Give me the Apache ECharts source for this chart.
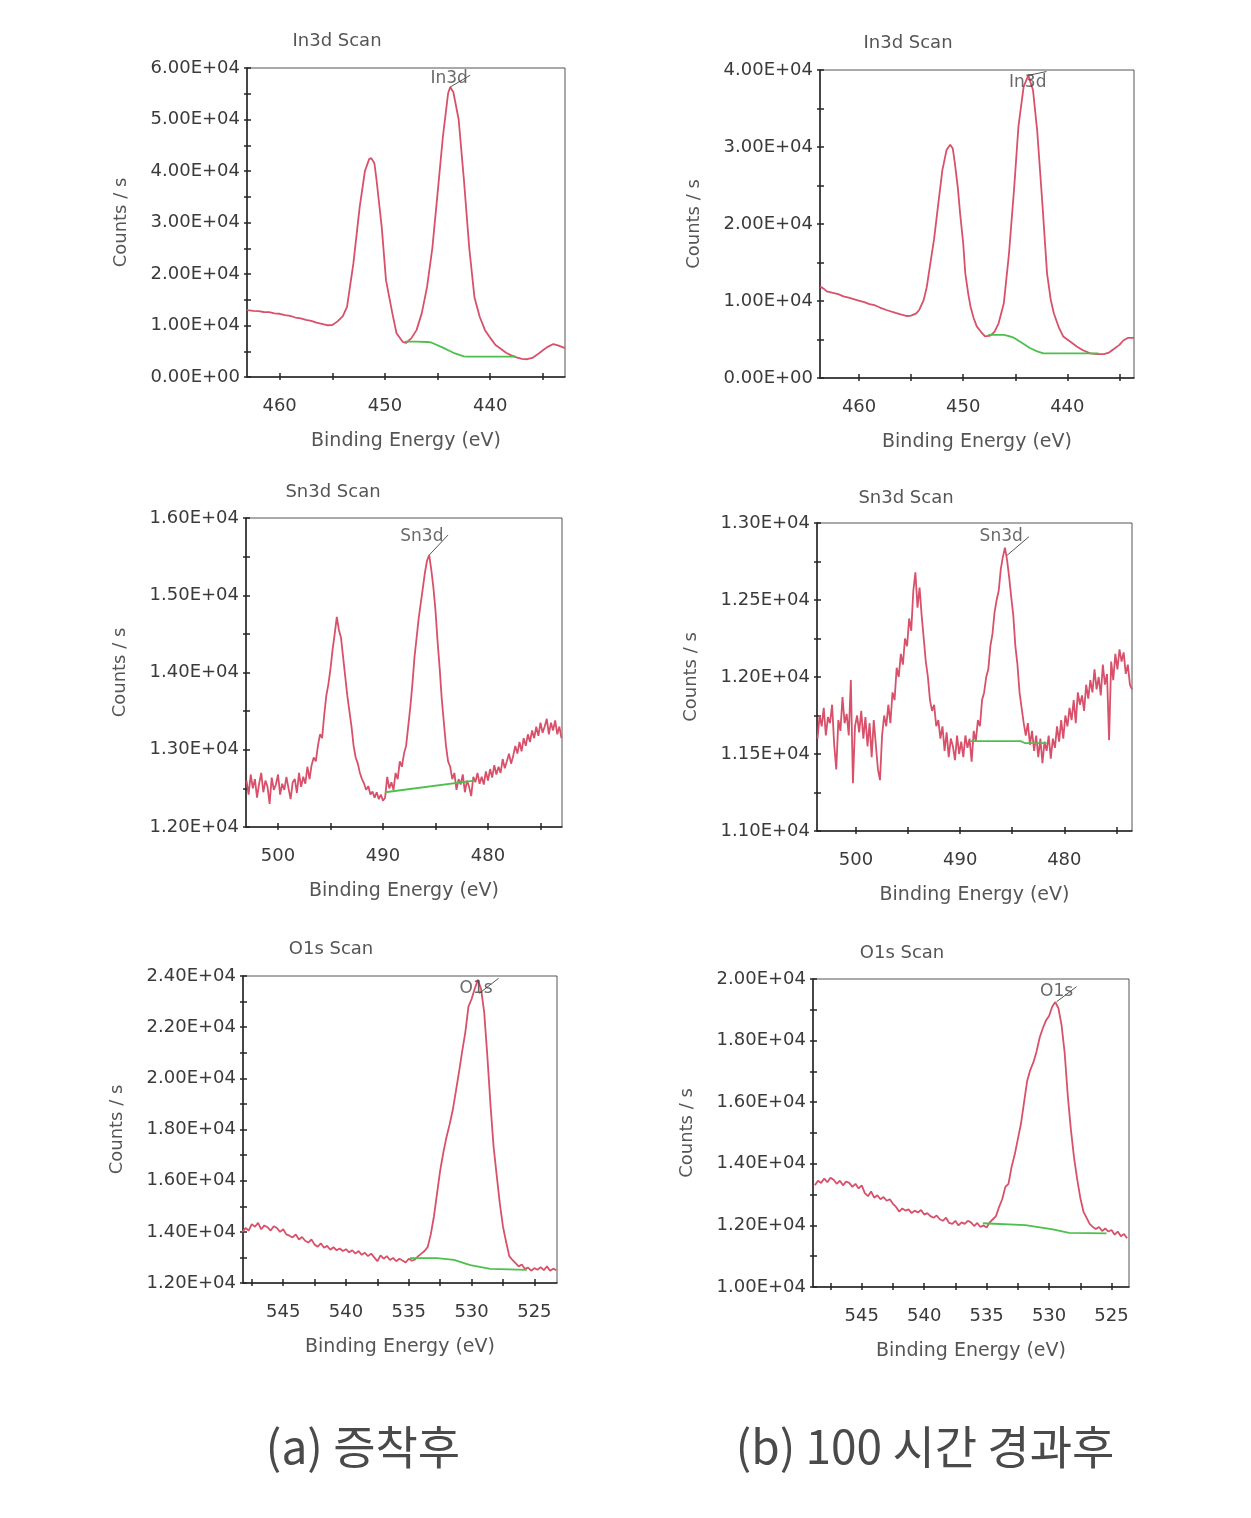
<!DOCTYPE html>
<html><head><meta charset="utf-8">
<script src="https://cdn.jsdelivr.net/npm/echarts@6/dist/echarts.min.js"></script>
<style>html,body{margin:0;padding:0;background:#fff}#c{width:1251px;height:1518px}</style>
</head><body><div id="c"></div>
<script>
// ---------- tick / label arrays ----------
const in3dXTicks = [435, 440, 445, 450, 455, 460];
const in3dXLabels = [440, 450, 460];
const sn3dXTicks = [475, 480, 485, 490, 495, 500];
const sn3dXLabels = [480, 490, 500];
const o1sXTicks = [525, 527.5, 530, 532.5, 535, 537.5, 540, 542.5, 545, 547.5];
const o1sXLabels = [525, 530, 535, 540, 545];

const in3dA_yTicks = [0, 5000, 10000, 15000, 20000, 25000, 30000, 35000, 40000, 45000, 50000, 55000, 60000];
const in3dA_yLabels = [0, 10000, 20000, 30000, 40000, 50000, 60000];
const in3dB_yTicks = [0, 5000, 10000, 15000, 20000, 25000, 30000, 35000, 40000];
const in3dB_yLabels = [0, 10000, 20000, 30000, 40000];
const sn3dA_yTicks = [12000, 12500, 13000, 13500, 14000, 14500, 15000, 15500, 16000];
const sn3dA_yLabels = [12000, 13000, 14000, 15000, 16000];
const sn3dB_yTicks = [11000, 11250, 11500, 11750, 12000, 12250, 12500, 12750, 13000];
const sn3dB_yLabels = [11000, 11500, 12000, 12500, 13000];
const o1sA_yTicks = [12000, 13000, 14000, 15000, 16000, 17000, 18000, 19000, 20000, 21000, 22000, 23000, 24000];
const o1sA_yLabels = [12000, 14000, 16000, 18000, 20000, 22000, 24000];
const o1sB_yTicks = [10000, 11000, 12000, 13000, 14000, 15000, 16000, 17000, 18000, 19000, 20000];
const o1sB_yLabels = [10000, 12000, 14000, 16000, 18000, 20000];

// ---------- titles & captions ----------
const titles = ['In3d Scan', 'In3d Scan', 'Sn3d Scan', 'Sn3d Scan', 'O1s Scan', 'O1s Scan'];
const peakNames = ['In3d', 'In3d', 'Sn3d', 'Sn3d', 'O1s', 'O1s'];
const xName = 'Binding Energy (eV)';
const yName = 'Counts / s';
const captionA = '(a) 증착후';
const captionB = '(b) 100 시간 경과후';

// ---------- In3d (a) : [binding energy, counts] ----------
const in3dA_spectrum = [[463.1,13000],[462.5,12850],[462,12780],[461.5,12620],[461,12580],[460.5,12350],[460,12280],[459.5,12000],[459,11880],[458.5,11550],[458,11380],[457.5,11100],[457,10880],[456.5,10550],[456,10300],[455.5,10050],[455,10100],[454.5,10800],[454,11800],[453.6,13600],[453,22000],[452.4,33000],[451.9,40000],[451.5,42300],[451.3,42500],[451,41500],[450.8,38300],[450.3,29000],[449.9,18800],[449.3,12400],[448.9,8500],[448.3,6800],[448,6600],[447.5,7500],[447,9100],[446.5,12400],[446,17500],[445.5,25000],[445,35700],[444.5,46600],[444,55100],[443.8,56300],[443.5,55300],[443,50000],[442.5,38300],[442,25200],[441.5,15500],[441,11700],[440.5,9100],[440,7600],[439.5,6200],[439,5500],[438.5,4700],[438,4200],[437.5,3800],[437,3500],[436.5,3450],[436,3700],[435.5,4400],[435,5200],[434.5,5900],[434,6400],[433.5,6100],[432.9,5600]];
const in3dA_background = [[448.1,6850],[447,6850],[446,6800],[445.6,6700],[444.5,5700],[443.5,4700],[442.5,4000],[442.2,3950],[437.6,3950]];
const in3dA_peakLabel = [443.9, 57860];
const in3dA_leader = [[443.8,56300],[441.9,58600]];

// ---------- In3d (b) ----------
const in3dB_spectrum = [[463.75,11900],[463.4,11600],[463.1,11250],[462.5,11050],[462,10900],[461.5,10600],[461,10450],[460.2,10100],[459.5,9850],[459,9600],[458.5,9450],[458,9150],[457.3,8800],[456.5,8450],[456,8250],[455.4,8050],[455,8100],[454.5,8400],[454.2,8900],[453.8,10100],[453.5,11800],[453.2,14500],[452.8,18000],[452.5,21400],[452,27000],[451.6,29600],[451.25,30300],[451,29800],[450.8,27900],[450.5,24500],[450.3,21400],[450,17500],[449.8,13600],[449.5,10800],[449.3,9300],[449,7800],[448.7,6700],[448.3,6000],[447.9,5400],[447.4,5500],[447,6000],[446.6,7100],[446.1,9700],[445.6,16200],[445.1,24800],[444.7,32600],[444.2,37800],[443.75,39300],[443.3,37400],[442.9,32200],[442.4,22700],[441.95,13600],[441.6,10200],[441.3,8400],[440.8,6500],[440.4,5400],[439.7,4700],[439.1,4100],[438.5,3600],[437.8,3200],[437.2,3100],[436.5,3100],[436,3300],[435.6,3700],[435,4300],[434.6,4900],[434.2,5200],[433.6,5200]];
const in3dB_background = [[447.6,5600],[446.1,5600],[445.6,5450],[445.1,5200],[444.3,4500],[443.6,3900],[442.9,3450],[442.3,3200],[437,3200]];
const in3dB_peakLabel = [443.8, 38310];
const in3dB_leader = [[443.75,39300],[442.0,39800]];

// ---------- Sn3d (a): energies 503.0 .. 473.0, step 0.2 eV ----------
const sn3dA_energyStart = 503.0, sn3dA_energyStep = -0.2;
const sn3dA_counts = [
12600,12420,12680,12500,12620,12380,12560,12700,12450,12600,
12520,12300,12640,12480,12550,12680,12420,12560,12480,12650,
12500,12360,12580,12620,12440,12700,12520,12650,12560,12780,
12620,12800,12900,12850,13050,13200,13150,13450,13700,13850,
14050,14300,14500,14720,14550,14450,14200,13950,13700,13500,
13300,13050,12900,12820,12700,12620,12560,12480,12530,12420,
12460,12380,12450,12360,12420,12340,12380,12650,12500,12580,
12480,12700,12620,12850,12780,12950,13050,13300,13550,13850,
14200,14450,14700,14900,15100,15300,15450,15520,15330,15100,
14800,14400,14050,13650,13350,13050,12850,12780,12620,12700,
12480,12620,12550,12680,12450,12600,12520,12400,12650,12580,
12700,12560,12650,12550,12720,12600,12750,12640,12800,12680,
12780,12700,12880,12760,12850,12950,12820,12920,13050,12950,
13100,12980,13150,13050,13200,13100,13250,13150,13300,13180,
13350,13220,13300,13400,13200,13350,13250,13380,13200,13300,
13150];
const sn3dA_background = [[489.8,12450],[481.3,12600]];
const sn3dA_peakLabel = [486.3, 15760];
const sn3dA_leader = [[485.6,15520],[483.8,15780]];

// ---------- Sn3d (b): energies 503.7 .. 473.5, step 0.2 eV ----------
const sn3dB_energyStart = 503.7, sn3dB_energyStep = -0.2;
const sn3dB_counts = [
11600,11750,11680,11800,11620,11740,11700,11820,11560,11400,
11720,11650,11870,11700,11760,11620,11980,11310,11680,11750,
11640,11780,11600,11740,11550,11700,11480,11720,11560,11400,
11330,11620,11750,11680,11820,11700,11900,11850,12060,12000,
12150,12080,12250,12200,12380,12300,12560,12680,12450,12580,
12400,12250,12100,12000,11850,11780,11820,11680,11720,11600,
11680,11520,11640,11480,11600,11550,11460,11620,11500,11580,
11480,11620,11540,11600,11450,11650,11580,11720,11680,11850,
11900,12000,12050,12200,12280,12420,12500,12560,12700,12780,
12840,12760,12650,12520,12400,12200,12080,11900,11800,11700,
11620,11700,11560,11650,11520,11620,11480,11600,11440,11580,
11520,11620,11470,11600,11540,11680,11580,11720,11600,11750,
11680,11800,11720,11850,11700,11900,11820,11880,11780,11950,
11860,11980,11900,12050,11920,12000,11880,12080,11950,12020,
11590,12100,11980,12150,12050,12180,12100,12160,12020,12080,
11950,11920];
const sn3dB_background = [[489.0,11584],[484.2,11584],[483.75,11570],[481.7,11570]];
const sn3dB_peakLabel = [486.06, 12909];
const sn3dB_leader = [[485.5,12790],[483.4,12911]];

// ---------- O1s (a): energies 548.25 .. 523.25, step 0.25 eV ----------
const o1sA_energyStart = 548.25, o1sA_energyStep = -0.25;
const o1sA_counts = [
13980,14150,14050,14300,14200,14350,14100,14250,
14180,14050,14220,14150,14000,14100,13900,13850,
13780,13900,13700,13800,13650,13580,13700,13500,
13420,13550,13380,13450,13300,13400,13280,13350,
13250,13320,13200,13280,13150,13250,13100,13180,
13050,13150,13000,12850,13080,12950,13050,12900,
12980,12850,12950,12880,12800,12950,12870,12920,
13050,13150,13250,13400,13900,14600,15500,16400,
17100,17700,18200,18760,19500,20250,21050,21800,
22800,23100,23500,23850,23500,22600,20900,19000,
17330,16200,15100,14200,13600,13050,12900,12780,
12650,12720,12550,12600,12480,12580,12520,12620,
12500,12650,12480,12560,12500];
const o1sA_background = [[534.9,12970],[532.75,12970],[531.4,12900],[530.1,12700],[528.5,12550],[525.6,12510]];
const o1sA_peakLabel = [529.64, 23520];
const o1sA_leader = [[529.4,23320],[527.85,23910]];

// ---------- O1s (b): energies 548.75 .. 523.75, step 0.25 eV ----------
const o1sB_energyStart = 548.75, o1sB_energyStep = -0.25;
const o1sB_counts = [
13300,13450,13380,13520,13400,13550,13480,13350,
13450,13300,13420,13380,13250,13350,13200,13300,
13050,12950,13100,12900,12980,12850,12920,12800,
12850,12700,12600,12450,12550,12480,12520,12400,
12480,12420,12500,12350,12400,12300,12250,12320,
12200,12150,12250,12080,12050,12150,12000,12100,
12050,12150,12100,11980,12080,11950,12000,11930,
12100,12200,12300,12600,12850,13250,13350,13900,
14300,14800,15300,16000,16700,17050,17300,17650,
18100,18400,18650,18800,19100,19250,19050,18500,
17600,16200,15100,14200,13500,12900,12450,12250,
12050,11950,11880,11950,11820,11900,11800,11850,
11700,11800,11650,11720,11580];
const o1sB_background = [[535.3,12070],[531.9,12010],[529.7,11870],[528.4,11760],[525.4,11740]];
const o1sB_peakLabel = [529.4, 19590];
const o1sB_leader = [[529.4,19260],[527.8,19750]];

// ---------- helpers ----------
function onEnergyGrid(start, step, counts) {
  return counts.map((c, i) => [+(start + i * step).toFixed(3), c]);
}
function sciLabel(v) {
  if (v === 0) return '0.00E+00';
  return (v / 10000).toFixed(2) + 'E+04';
}

// ---------- panel layout ----------
const panels = [
  { box: [247, 68, 318, 309], xr: [432.9, 463.1], yr: [0, 60000], xt: in3dXTicks, xl: in3dXLabels, yt: in3dA_yTicks, yl: in3dA_yLabels,
    spec: in3dA_spectrum, bg: in3dA_background, pl: in3dA_peakLabel, ld: in3dA_leader, title: titles[0], peak: peakNames[0], tpos: [337, 41] },
  { box: [820, 70, 314, 308], xr: [433.6, 463.75], yr: [0, 40000], xt: in3dXTicks, xl: in3dXLabels, yt: in3dB_yTicks, yl: in3dB_yLabels,
    spec: in3dB_spectrum, bg: in3dB_background, pl: in3dB_peakLabel, ld: in3dB_leader, title: titles[1], peak: peakNames[1], tpos: [908, 43] },
  { box: [246, 518, 316, 309], xr: [472.95, 503.05], yr: [12000, 16000], xt: sn3dXTicks, xl: sn3dXLabels, yt: sn3dA_yTicks, yl: sn3dA_yLabels,
    spec: onEnergyGrid(sn3dA_energyStart, sn3dA_energyStep, sn3dA_counts), bg: sn3dA_background, pl: sn3dA_peakLabel, ld: sn3dA_leader, title: titles[2], peak: peakNames[2], tpos: [333, 492] },
  { box: [817, 523, 315, 308], xr: [473.5, 503.75], yr: [11000, 13000], xt: sn3dXTicks, xl: sn3dXLabels, yt: sn3dB_yTicks, yl: sn3dB_yLabels,
    spec: onEnergyGrid(sn3dB_energyStart, sn3dB_energyStep, sn3dB_counts), bg: sn3dB_background, pl: sn3dB_peakLabel, ld: sn3dB_leader, title: titles[3], peak: peakNames[3], tpos: [906, 498] },
  { box: [243, 976, 314, 307], xr: [523.2, 548.2], yr: [12000, 24000], xt: o1sXTicks, xl: o1sXLabels, yt: o1sA_yTicks, yl: o1sA_yLabels,
    spec: onEnergyGrid(o1sA_energyStart, o1sA_energyStep, o1sA_counts), bg: o1sA_background, pl: o1sA_peakLabel, ld: o1sA_leader, title: titles[4], peak: peakNames[4], tpos: [331, 949] },
  { box: [813, 979, 316, 308], xr: [523.6, 548.9], yr: [10000, 20000], xt: o1sXTicks, xl: o1sXLabels, yt: o1sB_yTicks, yl: o1sB_yLabels,
    spec: onEnergyGrid(o1sB_energyStart, o1sB_energyStep, o1sB_counts), bg: o1sB_background, pl: o1sB_peakLabel, ld: o1sB_leader, title: titles[5], peak: peakNames[5], tpos: [902, 953] }
];

const FONT = '"DejaVu Sans", "Liberation Sans", sans-serif';
const AXIS_COLOR = '#262626';
const RED = '#d8506a';
const GREEN = '#4cc04c';

const grid = [], xAxis = [], yAxis = [], series = [], graphic = [];

panels.forEach((p, i) => {
  grid.push({ left: p.box[0], top: p.box[1], width: p.box[2], height: p.box[3],
    show: true, borderColor: '#555', borderWidth: 1, backgroundColor: 'transparent', containLabel: false });

  const axLine = { show: true, onZero: false, lineStyle: { color: AXIS_COLOR, width: 1.5 } };
  xAxis.push({ type: 'value', gridIndex: i, position: 'bottom', min: p.xr[0], max: p.xr[1], inverse: true,
    axisLine: axLine,
    axisTick: { show: true, inside: false, length: 3, customValues: p.xt, lineStyle: { color: AXIS_COLOR, width: 1.5 } },
    axisLabel: { show: true, customValues: p.xl, margin: 20, fontSize: 18, fontFamily: FONT, color: '#3a3a3a' },
    splitLine: { show: false },
    name: xName, nameLocation: 'middle', nameGap: 55,
    nameTextStyle: { fontSize: 19, fontFamily: FONT, color: '#555' } });
  xAxis.push({ type: 'value', gridIndex: i, position: 'bottom', min: p.xr[0], max: p.xr[1], inverse: true,
    axisLine: { show: false, onZero: false },
    axisTick: { show: true, inside: true, length: 4, customValues: p.xt, lineStyle: { color: AXIS_COLOR, width: 1.5 } },
    axisLabel: { show: false }, splitLine: { show: false } });

  yAxis.push({ type: 'value', gridIndex: i, position: 'left', min: p.yr[0], max: p.yr[1],
    axisLine: axLine,
    axisTick: { show: true, inside: false, length: 3, customValues: p.yt, lineStyle: { color: AXIS_COLOR, width: 1.5 } },
    axisLabel: { show: true, customValues: p.yl, margin: 7, fontSize: 18, fontFamily: FONT, color: '#3a3a3a', formatter: sciLabel },
    splitLine: { show: false },
    name: yName, nameLocation: 'middle', nameGap: 117,
    nameTextStyle: { fontSize: 18, fontFamily: FONT, color: '#555' } });
  yAxis.push({ type: 'value', gridIndex: i, position: 'left', min: p.yr[0], max: p.yr[1],
    axisLine: { show: false, onZero: false },
    axisTick: { show: true, inside: true, length: 4, customValues: p.yt, lineStyle: { color: AXIS_COLOR, width: 1.5 } },
    axisLabel: { show: false }, splitLine: { show: false } });

  const xi = 2 * i, yi = 2 * i;
  series.push({ type: 'line', xAxisIndex: xi, yAxisIndex: yi, data: p.spec, showSymbol: false, symbol: 'none',
    lineStyle: { color: RED, width: 1.8 }, z: 3, silent: true, animation: false });
  series.push({ type: 'line', xAxisIndex: xi, yAxisIndex: yi, data: p.bg, showSymbol: false, symbol: 'none',
    lineStyle: { color: GREEN, width: 1.8 }, z: 4, silent: true, animation: false });
  series.push({ type: 'line', xAxisIndex: xi, yAxisIndex: yi, data: p.ld, showSymbol: false, symbol: 'none',
    lineStyle: { color: '#555', width: 1 }, z: 5, silent: true, animation: false });
  series.push({ type: 'scatter', xAxisIndex: xi, yAxisIndex: yi, data: [p.pl], symbolSize: 1,
    itemStyle: { color: 'rgba(0,0,0,0)' }, z: 6, silent: true, animation: false,
    label: { show: true, position: 'inside', formatter: p.peak, fontSize: 17, fontFamily: FONT, color: '#444' } });

  graphic.push({ type: 'text', x: p.tpos[0], y: p.tpos[1], silent: true,
    style: { text: p.title, textAlign: 'center', textVerticalAlign: 'middle', align: 'center', verticalAlign: 'middle',
      font: '18px ' + FONT, fill: '#555' } });
});

graphic.push({ type: 'text', x: 363, y: 1447, silent: true,
  style: { text: captionA, textAlign: 'center', textVerticalAlign: 'middle', align: 'center', verticalAlign: 'middle',
    font: '46px "Noto Sans CJK KR", "Noto Sans", sans-serif', fill: '#4a4a4a' } });
graphic.push({ type: 'text', x: 925, y: 1447, silent: true,
  style: { text: captionB, textAlign: 'center', textVerticalAlign: 'middle', align: 'center', verticalAlign: 'middle',
    font: '46px "Noto Sans CJK KR", "Noto Sans", sans-serif', fill: '#4a4a4a' } });

const chart = echarts.init(document.getElementById('c'), null, { renderer: 'canvas' });
chart.setOption({ animation: false, backgroundColor: '#ffffff', grid, xAxis, yAxis, series, graphic });
</script></body></html>
